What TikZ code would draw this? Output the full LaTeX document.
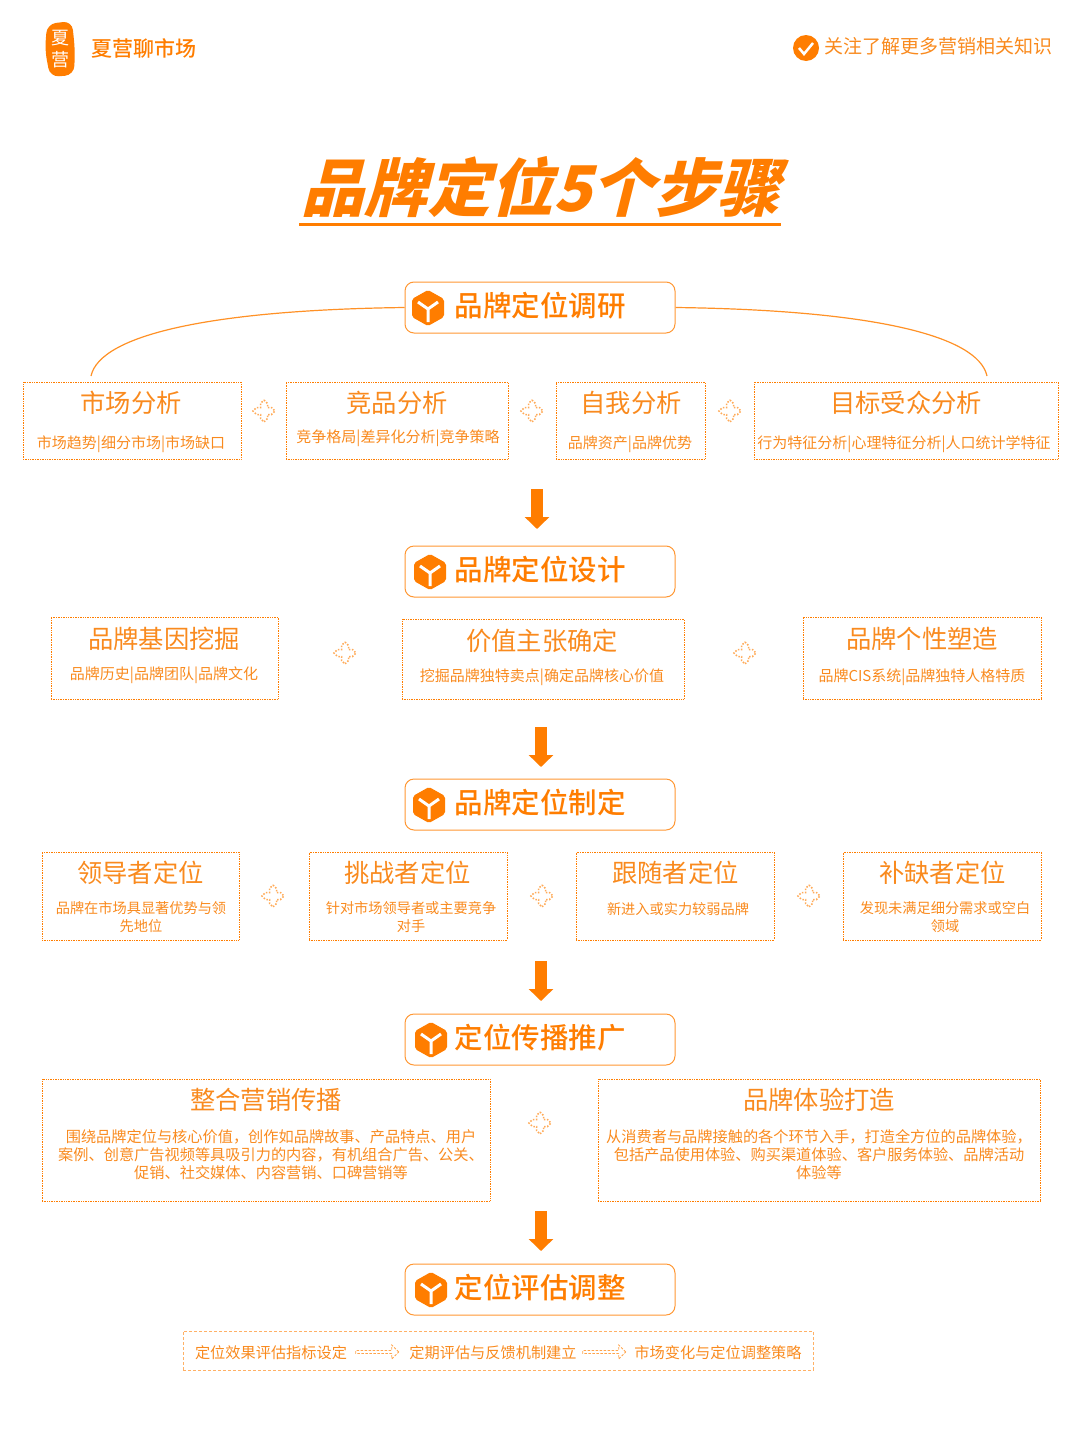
\documentclass[tikz,border=0pt]{standalone}
\usepackage{fontspec}
\setmainfont{Noto Sans CJK SC}
\newfontfamily\stepfont{Noto Sans CJK SC Medium}
\usetikzlibrary{arrows.meta,shapes.arrows}
\definecolor{campOrange}{HTML}{FF7D00}
\definecolor{campText}{HTML}{F98A1E}
\tikzset{
    stepbox/.style={draw=campOrange!80,line width=1pt,rounded corners=9pt,minimum width=270pt,minimum height=51pt,inner sep=0pt,text=campOrange,text height=24pt,text depth=5.4pt,font=\fontsize{28.5}{32}\stepfont},
    bigarrow/.style={draw=campOrange,line width=12pt,-{Triangle[length=12pt,width=24pt]}},
    cube/.pic={
        \fill[campOrange,rounded corners=2pt] (0,-18) -- (16,-9) -- (16,9) -- (0,18) -- (-16,9) -- (-16,-9) -- cycle;
        \draw[white,line width=3pt] (-10,-6) -- (0,1) -- (10,-6) (0,1) -- (0,14);
    },
    plusmark/.pic={
        \draw[campOrange!65,line width=1.5pt,dash pattern=on 1.5pt off 1.6pt] (0,-11) -- (3.5,-7.5) -- (3.5,-3.5) -- (7.5,-3.5) -- (11,0) -- (7.5,3.5) -- (3.5,3.5) -- (3.5,7.5) -- (0,11) -- (-3.5,7.5) -- (-3.5,3.5) -- (-7.5,3.5) -- (-11,0) -- (-7.5,-3.5) -- (-3.5,-3.5) -- (-3.5,-7.5) -- cycle;
    }
}
\begin{document}
\begin{tikzpicture}[x=1pt,y=-1pt]
\useasboundingbox (0,0) rectangle (1080,1440);
% header
\fill[campOrange,rounded corners=9pt] (47,24) -- (72,21) -- (75,50) -- (74,75) -- (50,77) -- (45,50) -- cycle;
\node[text=white,font=\fontsize{18}{20}\selectfont] (L1) at (60,38) {夏};
\node[text=white,font=\fontsize{18}{20}\selectfont] (L2) at (60,60) {营};
\node[text=campOrange,font=\fontsize{21}{24}\stepfont] (L3) at (144,48) {夏营聊市场};
\fill[campOrange] (806,48) circle (13);
\draw[white,line width=2.5pt] (799,48) -- (804,54) -- (813,43);
\node[text=campText,font=\fontsize{19}{22}\selectfont] (F1) at (938,46) {关注了解更多营销相关知识};
% title
\node[text=campOrange,font=\fontsize{63}{68}\selectfont\bfseries,xslant=0.25,transform shape,inner sep=0pt] (T) at (547,187) {品牌定位5个步骤};
\draw[campOrange,line width=3pt] (299,224) -- (781,224);
% steps
\begin{scope}[every node/.style={stepbox}]
    \node (S1) at (540,307.5) {品牌定位调研};
    \node (S2) at (540,571.5) {品牌定位设计};
    \node (S3) at (540,804.5) {品牌定位制定};
    \node (S4) at (540,1039.5) {定位传播推广};
    \node (S5) at (540,1289.5) {定位评估调整};
\end{scope}
\pic at (428,308) {cube};
\pic at (430,572) {cube};
\pic at (429,805) {cube};
\pic at (431,1040) {cube};
\pic at (431,1290) {cube};
% boxes
\begin{scope}[every node/.style={draw=campOrange,line width=0.7pt,densely dotted,inner sep=0pt}]
    \node[minimum width=218pt,minimum height=77pt] (A1) at (132,420.5) {};
    \node[minimum width=222pt,minimum height=77pt] (A2) at (397,420.5) {};
    \node[minimum width=149pt,minimum height=77pt] (A3) at (630.5,420.5) {};
    \node[minimum width=304pt,minimum height=77pt] (A4) at (906,420.5) {};
    \node[minimum width=227pt,minimum height=82pt] (B1) at (164.5,658) {};
    \node[minimum width=282pt,minimum height=80pt] (B2) at (543,659) {};
    \node[minimum width=238pt,minimum height=82pt] (B3) at (922,658) {};
    \node[minimum width=197pt,minimum height=88pt] (C1) at (140.5,896) {};
    \node[minimum width=198pt,minimum height=88pt] (C2) at (408,896) {};
    \node[minimum width=198pt,minimum height=88pt] (C3) at (675,896) {};
    \node[minimum width=198pt,minimum height=88pt] (C4) at (942,896) {};
    \node[minimum width=448pt,minimum height=122pt] (D1) at (266,1140) {};
    \node[minimum width=442pt,minimum height=122pt] (D2) at (819,1140) {};
\end{scope}
\node[draw=campOrange!60,line width=0.7pt,densely dashed,inner sep=0pt,minimum width=630pt,minimum height=39pt] (E) at (498,1350.5) {};
% box titles
\begin{scope}[every node/.style={text=campText,font=\fontsize{25.3}{28}\selectfont,inner sep=0pt}]
    \node (A1t) at (131,403) {市场分析};
    \node (A2t) at (397,403) {竞品分析};
    \node (A3t) at (631,403) {自我分析};
    \node (A4t) at (906,403) {目标受众分析};
    \node (B1t) at (164,639) {品牌基因挖掘};
    \node (B2t) at (542,641) {价值主张确定};
    \node (B3t) at (922,639) {品牌个性塑造};
    \node (C1t) at (140.5,873) {领导者定位};
    \node (C2t) at (407.5,873) {挑战者定位};
    \node (C3t) at (675.5,873) {跟随者定位};
    \node (C4t) at (942.5,873) {补缺者定位};
    \node (D1t) at (266,1100) {整合营销传播};
    \node (D2t) at (819,1100) {品牌体验打造};
\end{scope}
% box texts
\begin{scope}[every node/.style={text=campText,font=\fontsize{15}{18}\selectfont,inner sep=0pt,align=center}]
    \node (A1s) at (131,444.5) {市场趋势|细分市场|市场缺口};
    \node (A2s) at (398,438.5) {竞争格局|差异化分析|竞争策略};
    \node (A3s) at (630,444.5) {品牌资产|品牌优势};
    \node (A4s) at (904,444.5) {行为特征分析|心理特征分析|人口统计学特征};
    \node (B1s) at (164,675.5) {品牌历史|品牌团队|品牌文化};
    \node (B2s) at (542,677.5) {挖掘品牌独特卖点|确定品牌核心价值};
    \node (B3s) at (922,677.5) {品牌CIS系统|品牌独特人格特质};
    \node[font=\fontsize{14.2}{18}\selectfont] (C1s) at (141,917.5) {品牌在市场具显著优势与领\\先地位};
    \node[font=\fontsize{14.2}{18}\selectfont] (C2s) at (411,917.5) {针对市场领导者或主要竞争\\对手};
    \node[font=\fontsize{14.2}{18}\selectfont] (C3s) at (678,909) {新进入或实力较弱品牌};
    \node[font=\fontsize{14.2}{18}\selectfont] (C4s) at (945,917.5) {发现未满足细分需求或空白\\领域};
    \node[font=\fontsize{15.2}{18}\selectfont] (D1s) at (271,1154.5) {围绕品牌定位与核心价值，创作如品牌故事、产品特点、用户\\案例、创意广告视频等具吸引力的内容，有机组合广告、公关、\\促销、社交媒体、内容营销、口碑营销等};
    \node[font=\fontsize{15.2}{18}\selectfont] (D2s) at (819,1154.5) {从消费者与品牌接触的各个环节入手，打造全方位的品牌体验，\\包括产品使用体验、购买渠道体验、客户服务体验、品牌活动\\体验等};
    \node[font=\fontsize{15.2}{18}\selectfont] (E1) at (271,1353) {定位效果评估指标设定};
    \node[font=\fontsize{15.2}{18}\selectfont] (E2) at (493,1353) {定期评估与反馈机制建立};
    \node[font=\fontsize{15.2}{18}\selectfont] (E3) at (718,1353) {市场变化与定位调整策略};
\end{scope}
% plus marks
\pic at (264,411) {plusmark};
\pic at (532,411) {plusmark};
\pic at (730,411) {plusmark};
\pic at (345,653) {plusmark};
\pic at (745,653) {plusmark};
\pic at (273,896) {plusmark};
\pic at (542,896) {plusmark};
\pic at (809,896) {plusmark};
\pic at (540,1123) {plusmark};
% hollow arrows
\begin{scope}[every node/.style={single arrow,draw=campOrange!70,line width=0.8pt,dash pattern=on 2.5pt off 1.5pt,inner sep=0pt,minimum width=14pt,minimum height=43pt,single arrow head extend=1.5pt,single arrow head indent=0pt}]
    \node (H1) at (376.5,1352) {};
    \node (H2) at (603.5,1352) {};
\end{scope}
% connectors
\coordinate (P1) at (91,376);
\coordinate (P2) at (987,376);
\draw[campOrange!85,line width=1.2pt] (S1.west) .. controls (210,310) and (100,335) .. (P1);
\draw[campOrange!85,line width=1.2pt] (S1.east) .. controls (870,310) and (978,335) .. (P2);
\coordinate (U1) at (537,489);
\coordinate (V1) at (537,529);
\coordinate (U2) at (541,727);
\coordinate (V2) at (541,767);
\coordinate (U3) at (541,961);
\coordinate (V3) at (541,1001);
\coordinate (U4) at (541,1211);
\coordinate (V4) at (541,1251);
\draw[bigarrow] (U1) -- (V1);
\draw[bigarrow] (U2) -- (V2);
\draw[bigarrow] (U3) -- (V3);
\draw[bigarrow] (U4) -- (V4);
\end{tikzpicture}
\end{document}
